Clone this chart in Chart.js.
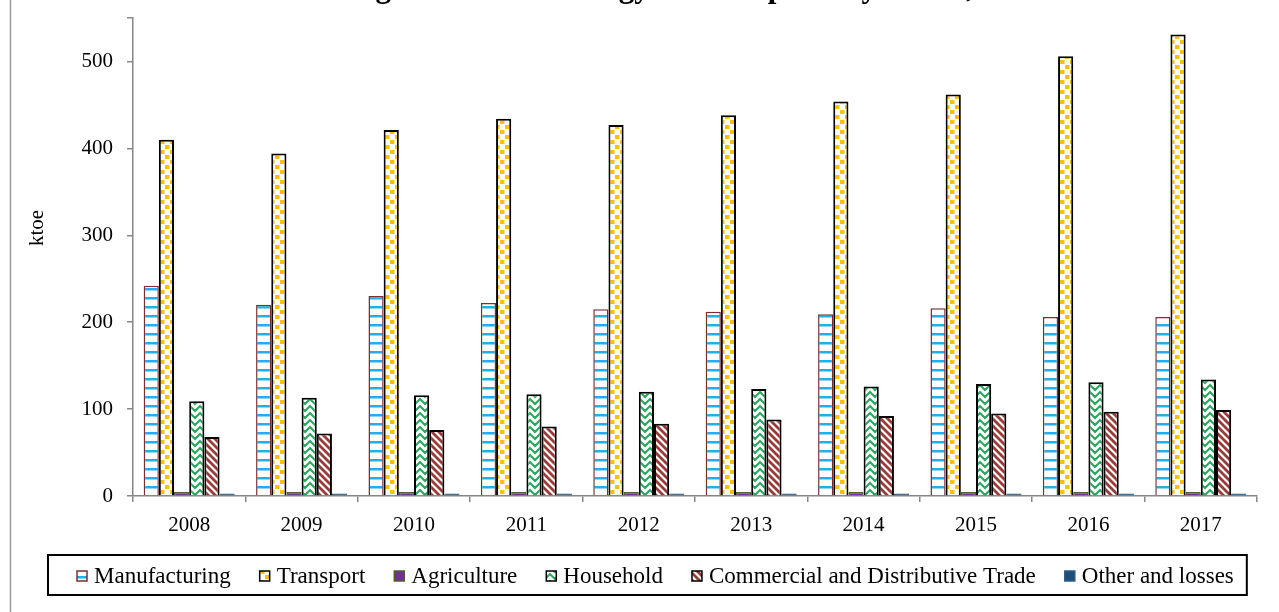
<!DOCTYPE html>
<html>
<head>
<meta charset="utf-8">
<script src="https://cdn.jsdelivr.net/npm/chart.js@4/dist/chart.umd.min.js"></script>
<style>
  html, body { margin: 0; padding: 0; background: #ffffff; }
  #wrap { width: 1279px; height: 612px; position: relative; }
</style>
</head>
<body>
<div id="wrap"><canvas id="chart" width="1279" height="612"></canvas></div>
<script>
// Final energy consumption by sector (ktoe)
const years = ['2008', '2009', '2010', '2011', '2012', '2013', '2014', '2015', '2016', '2017'];
const manufacturing = [242, 220, 230, 222, 215, 212, 209, 216, 206, 206];
const transport     = [410, 394, 421, 434, 427, 438, 454, 462, 506, 531];
const agriculture   = [4.5, 4.5, 4.5, 4.5, 4.5, 4.5, 4.5, 4.5, 4.5, 4.5];
const household     = [109, 113, 116, 117, 120, 123, 126, 129, 131, 134];
const commercial    = [68, 72, 76, 80, 83, 88, 92, 95, 97, 99];
const otherLosses   = [3, 3, 3, 3, 3, 3, 3, 3, 3, 3];
const yMax = 550;
const yStep = 100;

const titleText = 'Figure 1: Final Energy Consumption by Sector, 2008-2017';
const axisTitle = 'ktoe';
const serif = "'Liberation Serif', 'Times New Roman', serif";

// ---- fill patterns ----
function makeTile(w, h, draw) {
  const c = document.createElement('canvas');
  c.width = w; c.height = h;
  const g = c.getContext('2d');
  g.fillStyle = '#ffffff';
  g.fillRect(0, 0, w, h);
  draw(g);
  return document.createElement('canvas').getContext('2d').createPattern(c, 'repeat');
}

// horizontal light-blue stripes
const stripesH = makeTile(8, 9, g => {
  g.fillStyle = '#20AEEC';
  g.fillRect(0, 0, 8, 2);
  g.fillStyle = '#92D4F3';
  g.fillRect(0, 2, 8, 1);
});

// staggered gold squares
const goldDots = makeTile(10, 10, g => {
  g.fillStyle = '#FFC000';
  g.fillRect(0, 0, 4, 4);
  g.fillRect(5, 5, 4, 4);
  g.fillStyle = '#FFE08A';
  g.fillRect(4, 0, 1, 4);
  g.fillRect(9, 5, 1, 4);
});

// green zig-zag
const zigzag = makeTile(10, 7, g => {
  g.strokeStyle = '#27A85C';
  g.lineWidth = 2;
  g.beginPath();
  g.moveTo(-1, -1); g.lineTo(5, 5); g.lineTo(11, -1);
  g.moveTo(-1, 6); g.lineTo(1, 8);
  g.moveTo(9, 8); g.lineTo(11, 6);
  g.stroke();
});

// brown diagonal stripes (\)
const diagonal = makeTile(7, 7, g => {
  g.strokeStyle = '#9A3B38';
  g.lineWidth = 2.8;
  g.beginPath();
  g.moveTo(-2, -2); g.lineTo(9, 9);
  g.moveTo(-2, 5); g.lineTo(2, 9);
  g.moveTo(5, -2); g.lineTo(9, 2);
  g.stroke();
});

// ---- legend layout ----
const legendLayout = {
  startX: 77, centerY: 576, box: 10, textGap: 7, itemGap: 29,
  frameLeft: 48, frameTop: 555, frameBottom: 595, frameRightPad: 13
};

// ---- decorations: frame line, title, axis title, boxed legend ----
const decorations = {
  id: 'decorations',
  afterDraw(chart) {
    const ctx = chart.ctx;
    ctx.save();
    // left frame line
    ctx.strokeStyle = '#9a9a9a';
    ctx.lineWidth = 1.5;
    ctx.beginPath();
    ctx.moveTo(10.5, 0); ctx.lineTo(10.5, chart.height);
    ctx.stroke();

    // title (sits above the canvas top edge)
    ctx.fillStyle = '#000000';
    ctx.font = 'bold 31px ' + serif;
    ctx.textAlign = 'left';
    ctx.textBaseline = 'alphabetic';
    ctx.fillText(titleText, 348, -3);

    // y-axis title
    ctx.font = '21px ' + serif;
    ctx.textAlign = 'center';
    ctx.textBaseline = 'middle';
    ctx.translate(37, 228);
    ctx.rotate(-Math.PI / 2);
    ctx.fillText(axisTitle, 0, 0);
    ctx.setTransform(1, 0, 0, 1, 0, 0);

    // legend
    const L = legendLayout;
    ctx.font = '23px ' + serif;
    ctx.textAlign = 'left';
    ctx.textBaseline = 'middle';
    let x = L.startX;
    chart.data.datasets.forEach(ds => {
      const top = L.centerY - L.box / 2;
      ctx.fillStyle = ds.backgroundColor;
      ctx.fillRect(x, top, L.box, L.box);
      ctx.strokeStyle = ds.borderColor;
      ctx.lineWidth = 1.5;
      ctx.strokeRect(x, top, L.box, L.box);
      ctx.fillStyle = '#000000';
      const tx = x + L.box + L.textGap;
      ctx.fillText(ds.label, tx, L.centerY + 1);
      x = tx + ctx.measureText(ds.label).width + L.itemGap;
    });
    const right = x - L.itemGap + L.frameRightPad;
    ctx.strokeStyle = '#000000';
    ctx.lineWidth = 2;
    ctx.strokeRect(L.frameLeft, L.frameTop, right - L.frameLeft, L.frameBottom - L.frameTop);
    ctx.restore();
  }
};

const axisGrey = '#868686';

new Chart(document.getElementById('chart'), {
  type: 'bar',
  data: {
    labels: years,
    datasets: [
      { label: 'Manufacturing', data: manufacturing, backgroundColor: stripesH, borderColor: '#7A2F2F', borderWidth: 1.5 },
      { label: 'Transport', data: transport, backgroundColor: goldDots, borderColor: '#000000', borderWidth: 2 },
      { label: 'Agriculture', data: agriculture, backgroundColor: '#7030A0', borderColor: '#4F6228', borderWidth: 1.5 },
      { label: 'Household', data: household, backgroundColor: zigzag, borderColor: '#000000', borderWidth: 2 },
      { label: 'Commercial and Distributive Trade', data: commercial, backgroundColor: diagonal, borderColor: '#000000', borderWidth: 2 },
      { label: 'Other and losses', data: otherLosses, backgroundColor: '#1F4E79', borderColor: '#2B5C8C', borderWidth: 1 }
    ]
  },
  options: {
    responsive: false,
    animation: false,
    devicePixelRatio: 1,
    layout: { padding: { left: 0, right: 22, top: 18, bottom: 72 } },
    datasets: {
      bar: { categoryPercentage: 0.81, barPercentage: 1.0 }
    },
    scales: {
      x: {
        grid: { display: true, drawOnChartArea: false, drawTicks: true, tickLength: 6, color: axisGrey, lineWidth: 1.5 },
        border: { display: true, color: axisGrey, width: 1.5 },
        ticks: { color: '#000000', font: { family: serif, size: 21 }, padding: 11 },
        afterFit(scale) { scale.height = 44; scale.paddingLeft = 0; scale.paddingRight = 0; }
      },
      y: {
        min: 0,
        max: yMax,
        grid: { display: true, drawOnChartArea: false, drawTicks: true, tickLength: 6, color: axisGrey, lineWidth: 1.5 },
        border: { display: true, color: axisGrey, width: 1.5 },
        ticks: { stepSize: yStep, color: '#000000', font: { family: serif, size: 21 }, padding: 14,
                 callback: v => (v % yStep === 0 ? v : '') },
        afterFit(scale) { scale.width = 133; scale.paddingTop = 0; scale.paddingBottom = 0; }
      }
    },
    plugins: {
      title: { display: false },
      tooltip: { enabled: false },
      legend: { display: false }
    }
  },
  plugins: [decorations]
});
</script>
</body>
</html>
